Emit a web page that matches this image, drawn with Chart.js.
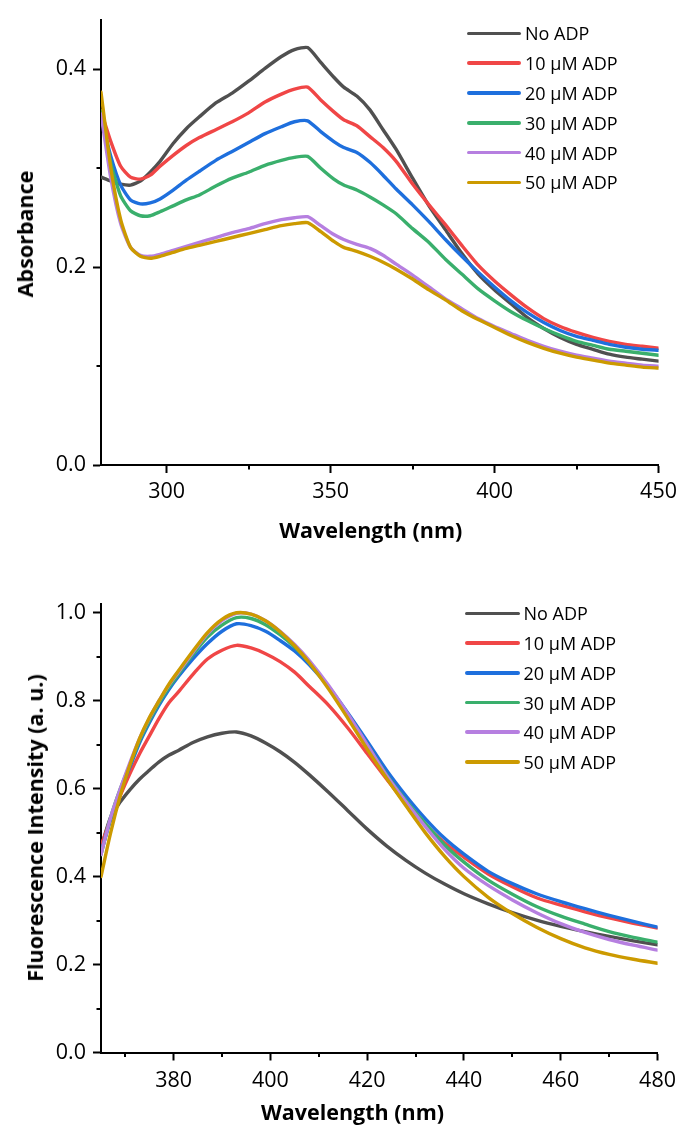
<!DOCTYPE html>
<html>
<head>
<meta charset="utf-8">
<script src="https://cdn.jsdelivr.net/npm/chart.js@4.4.1/dist/chart.umd.min.js"></script>
<style>
  html, body { margin: 0; padding: 0; background: #fff; }
  body { width: 683px; height: 1126px; position: relative; overflow: hidden; font-family: "Open Sans", sans-serif; }
  canvas { position: absolute; left: 0; }
  #c1 { top: 0; }
  #c2 { top: 560px; }
  .sw { position: absolute; height: 3.5px; border-radius: 2px; }
  .lt { position: absolute; font-size: 18px; line-height: 24px; color: #000; white-space: nowrap; }
  .ttl { position: absolute; font-family: "Open Sans", sans-serif; font-weight: bold; font-size: 21.5px; line-height: 30px; color: #000; white-space: nowrap; transform: translate(-50%, -50%); }
  .ttl.rot { transform: translate(-50%, -50%) rotate(-90deg); }
</style>
</head>
<body>
<canvas id="c1" width="683" height="560"></canvas>
<canvas id="c2" width="683" height="566"></canvas>
<div id="leg"></div>
<div id="titles"></div>
<script>
// ---------- data ----------
const seriesLabels = ["No ADP", "10 \u03bcM ADP", "20 \u03bcM ADP", "30 \u03bcM ADP", "40 \u03bcM ADP", "50 \u03bcM ADP"];
const seriesColors = ["#505050", "#f04646", "#1e6fdd", "#3aaf6c", "#b67fe0", "#cc9a00"];
const xTitle = "Wavelength (nm)";
const absYTitle = "Absorbance";
const flYTitle = "Fluorescence Intensity (a. u.)";

// Absorbance spectra (top)
const absWavelength = [280,283,286,289,292,295,298,302,306,310,315,320,325,330,335,339,343,347,351,354,358,362,366,370,375,380,385,390,395,400,405,410,415,420,425,430,435,440,445,450];
const absNoADP = [0.291,0.287,0.284,0.283,0.287,0.296,0.307,0.325,0.340,0.352,0.366,0.376,0.388,0.401,0.413,0.420,0.422,0.407,0.392,0.382,0.373,0.359,0.339,0.319,0.290,0.262,0.238,0.214,0.193,0.177,0.163,0.149,0.138,0.129,0.122,0.117,0.112,0.109,0.107,0.105];
const abs10 = [0.358,0.327,0.302,0.291,0.289,0.293,0.302,0.313,0.323,0.331,0.339,0.347,0.356,0.367,0.375,0.380,0.382,0.369,0.357,0.349,0.343,0.332,0.321,0.307,0.284,0.263,0.243,0.222,0.202,0.186,0.172,0.159,0.148,0.140,0.134,0.129,0.125,0.122,0.120,0.118];
const abs20 = [0.352,0.312,0.283,0.268,0.264,0.265,0.269,0.278,0.288,0.297,0.308,0.317,0.326,0.335,0.342,0.347,0.348,0.337,0.327,0.321,0.316,0.306,0.293,0.279,0.263,0.246,0.228,0.211,0.195,0.180,0.166,0.154,0.144,0.136,0.130,0.126,0.122,0.119,0.117,0.116];
const abs30 = [0.358,0.305,0.272,0.257,0.252,0.252,0.256,0.262,0.268,0.273,0.282,0.290,0.296,0.303,0.308,0.311,0.312,0.300,0.289,0.283,0.278,0.271,0.263,0.254,0.239,0.225,0.208,0.193,0.178,0.166,0.155,0.146,0.138,0.131,0.125,0.121,0.117,0.115,0.113,0.111];
const abs40 = [0.355,0.290,0.244,0.220,0.212,0.211,0.213,0.217,0.221,0.225,0.230,0.235,0.239,0.244,0.248,0.250,0.251,0.242,0.233,0.228,0.223,0.219,0.212,0.203,0.192,0.180,0.168,0.158,0.148,0.140,0.133,0.126,0.120,0.115,0.111,0.108,0.105,0.103,0.101,0.100];
const abs50 = [0.377,0.300,0.248,0.220,0.211,0.209,0.211,0.215,0.219,0.222,0.226,0.230,0.234,0.238,0.242,0.244,0.245,0.236,0.226,0.220,0.216,0.211,0.205,0.198,0.188,0.177,0.167,0.156,0.147,0.139,0.131,0.124,0.118,0.113,0.109,0.106,0.103,0.101,0.099,0.098];

// Fluorescence spectra (bottom)
const flWavelength = [365,367,369,371,373,375,377,379,381,384,387,390,393,396,399,402,405,408,412,416,420,424,428,432,436,440,445,450,455,460,465,470,475,480];
const flNoADP = [0.465,0.535,0.570,0.598,0.622,0.642,0.661,0.676,0.687,0.705,0.718,0.726,0.729,0.720,0.704,0.684,0.660,0.632,0.592,0.550,0.508,0.470,0.437,0.408,0.383,0.361,0.338,0.318,0.301,0.287,0.275,0.264,0.254,0.245];
const fl10 = [0.470,0.530,0.585,0.635,0.680,0.720,0.760,0.795,0.820,0.860,0.895,0.915,0.926,0.920,0.907,0.889,0.865,0.833,0.790,0.738,0.680,0.622,0.566,0.518,0.477,0.444,0.406,0.377,0.352,0.335,0.320,0.306,0.294,0.283];
const fl20 = [0.455,0.530,0.595,0.650,0.705,0.750,0.790,0.825,0.855,0.895,0.930,0.958,0.975,0.971,0.958,0.937,0.913,0.882,0.832,0.772,0.708,0.642,0.584,0.532,0.487,0.451,0.412,0.384,0.361,0.343,0.327,0.312,0.298,0.285];
const fl30 = [0.450,0.535,0.600,0.655,0.710,0.755,0.795,0.830,0.860,0.905,0.945,0.972,0.989,0.987,0.973,0.950,0.922,0.887,0.832,0.768,0.700,0.632,0.573,0.521,0.472,0.433,0.392,0.360,0.332,0.310,0.292,0.275,0.262,0.251];
const fl40 = [0.450,0.535,0.600,0.660,0.715,0.760,0.800,0.835,0.865,0.910,0.952,0.982,0.999,0.997,0.982,0.958,0.928,0.892,0.835,0.770,0.700,0.630,0.570,0.514,0.462,0.419,0.380,0.347,0.318,0.293,0.273,0.257,0.244,0.233];
const fl50 = [0.400,0.500,0.585,0.655,0.715,0.762,0.800,0.837,0.868,0.913,0.955,0.985,1.000,0.997,0.982,0.957,0.925,0.887,0.827,0.760,0.690,0.624,0.561,0.500,0.446,0.400,0.353,0.316,0.285,0.259,0.238,0.223,0.212,0.203];

// axis ticks
const absXTicks = [300, 350, 400, 450];
const absXMinor = [325, 375, 425];
const absYTicks = [0.0, 0.2, 0.4];
const absYMinor = [0.1, 0.3];
const flXTicks = [380, 400, 420, 440, 460, 480];
const flXMinor = [370, 390, 410, 430, 450, 470];
const flYTicks = [0.0, 0.2, 0.4, 0.6, 0.8, 1.0];
const flYMinor = [0.1, 0.3, 0.5, 0.7, 0.9];

// ---------- chart helpers ----------
const tickFont = { family: "'Open Sans', sans-serif", size: 21.5 };

const minorTickPlugin = {
  id: 'minorTicks',
  afterDraw(chart, args, opts) {
    const ctx = chart.ctx;
    const xs = chart.scales.x, ys = chart.scales.y;
    ctx.save();
    ctx.strokeStyle = '#000';
    ctx.lineWidth = 2;
    (opts.x || []).forEach(v => {
      const px = Math.round(xs.getPixelForValue(v));
      ctx.beginPath(); ctx.moveTo(px, xs.top); ctx.lineTo(px, xs.top + 4.5); ctx.stroke();
    });
    (opts.y || []).forEach(v => {
      const py = Math.round(ys.getPixelForValue(v));
      ctx.beginPath(); ctx.moveTo(ys.right, py); ctx.lineTo(ys.right - 4.5, py); ctx.stroke();
    });
    ctx.restore();
  }
};

function buildDatasets(xs, seriesList, tension) {
  return seriesList.map((s, i) => ({
    label: seriesLabels[i],
    data: xs.map((x, j) => ({ x: x, y: s[j] })),
    borderColor: seriesColors[i],
    backgroundColor: seriesColors[i],
    borderWidth: 3.4,
    pointRadius: 0,
    tension: tension,
    fill: false,
    borderCapStyle: 'round',
    borderJoinStyle: 'round',
    order: seriesList.length - i
  }));
}

function makeChart(id, cfg) {
  return new Chart(document.getElementById(id), {
    type: 'line',
    data: { datasets: buildDatasets(cfg.xs, cfg.series, cfg.tension) },
    options: {
      responsive: false,
      animation: false,
      devicePixelRatio: 1,
      layout: { padding: { left: 0, right: 23, top: cfg.padTop, bottom: 0 } },
      plugins: {
        legend: { display: false },
        tooltip: { enabled: false },
        minorTicks: { x: cfg.xMinor, y: cfg.yMinor }
      },
      scales: {
        x: {
          type: 'linear', min: cfg.xMin, max: cfg.xMax,
          afterBuildTicks: s => { s.ticks = cfg.xTicks.map(v => ({ value: v })); },
          afterFit: s => { s.height = cfg.xAxisHeight; },
          ticks: { autoSkip: false, maxRotation: 0, padding: cfg.xTickPad, color: '#000', font: tickFont, callback: v => String(v) },
          grid: { drawOnChartArea: false, drawTicks: true, tickLength: 8, tickWidth: 2, tickColor: '#000' },
          border: { display: true, color: '#000', width: 2 },
          title: { display: false }
        },
        y: {
          type: 'linear', min: cfg.yMin, max: cfg.yMax,
          afterBuildTicks: s => { s.ticks = cfg.yTicks.map(v => ({ value: v })); },
          afterFit: s => { s.width = 101; },
          ticks: { autoSkip: false, padding: 7, color: '#000', font: tickFont, callback: v => Number(v).toFixed(1) },
          grid: { drawOnChartArea: false, drawTicks: true, tickLength: 8, tickWidth: 2, tickColor: '#000' },
          border: { display: true, color: '#000', width: 2 },
          title: { display: false }
        }
      }
    },
    plugins: [minorTickPlugin]
  });
}

makeChart('c1', {
  xs: absWavelength,
  series: [absNoADP, abs10, abs20, abs30, abs40, abs50],
  tension: 0.2,
  xMin: 280, xMax: 450, yMin: 0, yMax: 0.45,
  xTicks: absXTicks, xMinor: absXMinor, yTicks: absYTicks, yMinor: absYMinor,
  padTop: 15, xAxisHeight: 95, xTickPad: 6
});

makeChart('c2', {
  xs: flWavelength,
  series: [flNoADP, fl10, fl20, fl30, fl40, fl50],
  tension: 0.3,
  xMin: 365, xMax: 480, yMin: 0, yMax: 1.02,
  xTicks: flXTicks, xMinor: flXMinor, yTicks: flYTicks, yMinor: flYMinor,
  padTop: 44, xAxisHeight: 73.5, xTickPad: 7
});

// ---------- axis titles (HTML text) ----------
function addTitle(text, cx, cy, rotated) {
  const d = document.createElement('div');
  d.className = 'ttl' + (rotated ? ' rot' : '');
  d.style.left = cx + 'px';
  d.style.top = cy + 'px';
  d.textContent = text;
  document.getElementById('titles').appendChild(d);
}
addTitle(xTitle, 370.8, 529.7, false);
addTitle(absYTitle, 24.7, 233.5, true);
addTitle(xTitle, 352.5, 1111.5, false);
addTitle(flYTitle, 35, 827.5, true);

// ---------- legends (HTML, built from labels/colors) ----------
function buildLegend(firstY, step, lineLeft, lineW, textLeft) {
  const host = document.getElementById('leg');
  seriesLabels.forEach((lab, i) => {
    const cy = firstY + i * step;
    const sw = document.createElement('div');
    sw.className = 'sw';
    sw.style.left = lineLeft + 'px';
    sw.style.width = lineW + 'px';
    sw.style.top = (cy - 1.75) + 'px';
    sw.style.background = seriesColors[i];
    host.appendChild(sw);
    const t = document.createElement('div');
    t.className = 'lt';
    t.style.left = textLeft + 'px';
    t.style.top = (cy - 12) + 'px';
    t.textContent = lab;
    host.appendChild(t);
  });
}
buildLegend(33.4, 29.8, 466.5, 54, 525);
buildLegend(613.4, 29.7, 465, 54.5, 523.5);
</script>
</body>
</html>
